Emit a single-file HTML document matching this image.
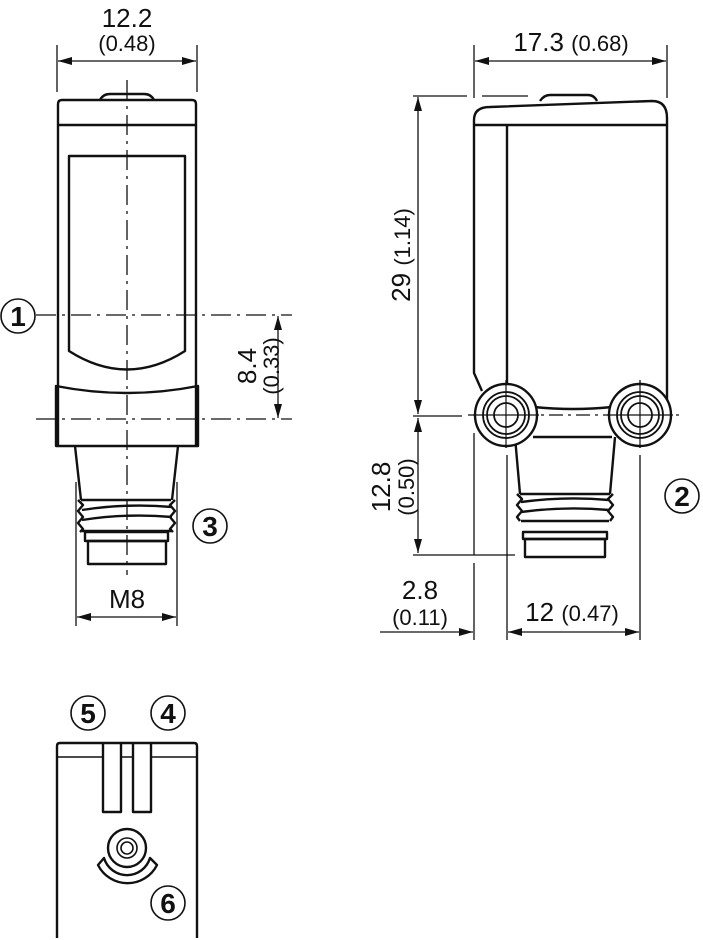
<!DOCTYPE html>
<html><head><meta charset="utf-8"><style>
html,body{margin:0;padding:0;background:#fff}
svg{display:block}
text{font-family:"Liberation Sans",sans-serif;fill:#111}
</style></head><body>
<svg width="703" height="940" viewBox="0 0 703 940" xmlns="http://www.w3.org/2000/svg">
<defs>
<marker id="a" viewBox="0 0 14 8" refX="14" refY="4" markerWidth="14" markerHeight="8" markerUnits="userSpaceOnUse" orient="auto-start-reverse"><path d="M0,0 L14,4 L0,8 Z" fill="#111"/></marker>
</defs>
<g fill="none" stroke="#111">
<!-- LEFT VIEW -->
<g stroke-width="1.3">
<line x1="57" y1="45" x2="57" y2="92"/><line x1="197" y1="45" x2="197" y2="92"/>
<line x1="58" y1="61" x2="196" y2="61" marker-start="url(#a)" marker-end="url(#a)"/>
<line x1="76" y1="482" x2="76" y2="626"/><line x1="177" y1="482" x2="177" y2="626"/>
<line x1="77" y1="617" x2="176" y2="617" marker-start="url(#a)" marker-end="url(#a)"/>
<line x1="278" y1="316" x2="278" y2="418" marker-start="url(#a)" marker-end="url(#a)"/>
<g stroke-dasharray="20 6 3 6">
<line x1="127" y1="80" x2="127" y2="575"/>
<line x1="36" y1="315" x2="292" y2="315"/>
<line x1="36" y1="419" x2="292" y2="419"/>
</g>
</g>
<g stroke-width="2.4" stroke-linejoin="round">
<path d="M100,100 Q103,94 110,94 L144,94 Q151,94 154,100"/>
<path d="M58,446 L58,104 Q58,100 62,100 L192,100 Q196,100 196,104 L196,446"/>
<line x1="58" y1="125" x2="196" y2="125"/>
<path d="M69,351 L69,156 L185,156 L185,351 Q127,388 69,351 Z"/>
<path d="M56,386 Q127,400 198,386 L198,446 L56,446 Z"/>
<path d="M75,446 L81,500 M178,446 L172,500"/>
<path d="M81,500 L171,500 M78,500 L83,505 L78,511 L83,517 L78,523 L83,529 L80,532 M175,500 L170,505 L175,511 L170,517 L175,523 L170,529 L173,532 M82,510 Q127,503 172,507 M82,520 Q127,513 172,517 M82,531 L172,531"/>
<rect x="85" y="532" width="83" height="9"/>
<rect x="88" y="541" width="78" height="23"/>
</g>
<!-- RIGHT VIEW -->
<g stroke-width="1.3">
<line x1="474" y1="45" x2="474" y2="98"/><line x1="667" y1="45" x2="667" y2="98"/>
<line x1="475" y1="61" x2="666" y2="61" marker-start="url(#a)" marker-end="url(#a)"/>
<line x1="413" y1="96" x2="467" y2="96"/><line x1="482" y1="96" x2="528" y2="96"/>
<line x1="413" y1="416" x2="462" y2="416"/>
<line x1="413" y1="555" x2="515" y2="555"/>
<line x1="418" y1="97" x2="418" y2="414" marker-start="url(#a)" marker-end="url(#a)"/>
<line x1="418" y1="418" x2="418" y2="553" marker-start="url(#a)" marker-end="url(#a)"/>
<line x1="474" y1="433" x2="474" y2="555"/><line x1="474" y1="563" x2="474" y2="640"/>
<line x1="507" y1="455" x2="507" y2="640"/><line x1="640" y1="455" x2="640" y2="640"/>
<line x1="380" y1="632" x2="473" y2="632" marker-end="url(#a)"/>
<line x1="508" y1="632" x2="639" y2="632" marker-start="url(#a)" marker-end="url(#a)"/>
<g stroke-dasharray="14 5 3 5">
<line x1="468" y1="415" x2="682" y2="415"/>
<line x1="506" y1="380" x2="506" y2="452"/>
<line x1="640" y1="380" x2="640" y2="452"/>
</g>
</g>
<g stroke-width="2.4" stroke-linejoin="round">
<path d="M540,101 Q544,95 550,95 L588,95 Q594,95 597,101"/>
<path d="M482,391 L474,373 L474,120 Q474,107 490,107 L652,101 Q667,101 667,118 L667,401"/>
<line x1="474" y1="125" x2="667" y2="125"/>
<line x1="507" y1="125" x2="507" y2="385"/>
<path d="M534,407 Q573,411 612,407"/>
<line x1="533" y1="437" x2="612" y2="437"/>
<path d="M515,437 L520,494 M615,437 L610,494"/>
<path d="M520,494 L610,494 M517,494 L522,499 L517,505 L522,511 L517,517 L520,521 M613,494 L608,499 L613,505 L608,511 L613,517 L610,521 M521,502 Q565,496 609,500 M521,512 Q565,506 609,510 M521,521 L609,521"/>
<rect x="523" y="532" width="84" height="7"/>
<rect x="525" y="539" width="80" height="18"/>
<circle cx="506" cy="415" r="31" fill="#fff"/>
<circle cx="640" cy="415" r="31" fill="#fff"/>
</g>
<g stroke-width="1.8">
<circle cx="506" cy="415" r="23"/><circle cx="506" cy="415" r="19"/><circle cx="506" cy="415" r="12"/>
<circle cx="640" cy="415" r="23"/><circle cx="640" cy="415" r="19"/><circle cx="640" cy="415" r="12"/>
</g>
<g stroke-width="1.2">
<line x1="506" y1="382" x2="506" y2="448"/><line x1="473" y1="415" x2="539" y2="415"/>
<line x1="640" y1="382" x2="640" y2="448"/><line x1="607" y1="415" x2="673" y2="415"/>
</g>
<!-- BOTTOM VIEW -->
<g stroke-width="2.4" stroke-linejoin="round">
<path d="M57,938 L57,746 Q57,743 60,743 L194,743 Q197,743 197,746 L197,938"/>
<path d="M57,757 L103,757 M121,757 L133,757 M151,757 L197,757" stroke-width="1.6"/>
<path d="M103,743 L103,812 L121,812 L121,743 M133,743 L133,812 L151,812 L151,743"/>
<circle cx="127" cy="848" r="19"/>
<path d="M98,865 A33,33 0 0 0 157,865 L150,858 A24,24 0 0 1 104,858 Z"/>
</g>
<g stroke-width="1.6"><circle cx="127" cy="848" r="10"/><circle cx="127" cy="848" r="6"/></g>
<!-- circled numbers -->
<g stroke-width="1.6">
<circle cx="18" cy="316" r="17"/><circle cx="210" cy="526" r="17"/><circle cx="682" cy="496" r="17"/>
<circle cx="88" cy="713" r="17"/><circle cx="168" cy="713" r="17"/><circle cx="168" cy="903" r="17"/>
</g>
</g>
<g font-size="28" text-anchor="middle" font-weight="bold">
<text x="18" y="326">1</text><text x="210" y="536">3</text><text x="682" y="506">2</text>
<text x="88" y="723">5</text><text x="168" y="723">4</text><text x="168" y="913">6</text>
</g>
<g font-size="26" text-anchor="middle">
<text x="127" y="27">12.2</text>
<text x="127" y="51" font-size="22">(0.48)</text>
<text x="127" y="608">M8</text>
<text x="571" y="51">17.3 <tspan font-size="22">(0.68)</tspan></text>
<text x="420" y="599">2.8</text>
<text x="420" y="625" font-size="22">(0.11)</text>
<text x="572" y="621">12 <tspan font-size="22">(0.47)</tspan></text>
<text transform="translate(256,366) rotate(-90)">8.4</text>
<text transform="translate(279,366) rotate(-90)" font-size="22">(0.33)</text>
<text transform="translate(410,255) rotate(-90)">29 <tspan font-size="22">(1.14)</tspan></text>
<text transform="translate(390,487) rotate(-90)">12.8</text>
<text transform="translate(414,487) rotate(-90)" font-size="22">(0.50)</text>
</g>
</svg>
</body></html>
